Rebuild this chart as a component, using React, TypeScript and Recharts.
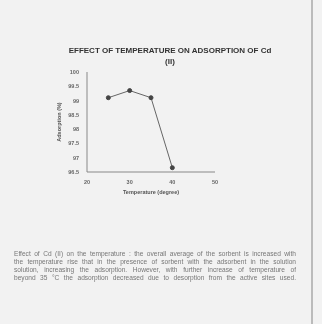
import { LineChart, Line, XAxis, YAxis, Label } from 'recharts';

// temperature (degree) vs adsorption (%)
const temperatures = [25, 30, 35, 40];
const adsorption = [99.1, 99.35, 99.1, 96.65];
const xTicks = [20, 30, 40, 50];
const yTicks = [96.5, 97, 97.5, 98, 98.5, 99, 99.5, 100];

const data = temperatures.map((t, i) => ({ t, value: adsorption[i] }));

const paragraph = [
  'Effect of Cd (II) on the temperature : the overall average of the sorbent is increased with',
  'the temperature rise that in the presence of sorbent with the adsorbent in the solution',
  'solution, increasing the adsorption. However, with further increase of temperature of',
  'beyond 35 °C the adsorption decreased due to desorption from the active sites used.',
];

export default function App() {
  return (
    <div
      style={{
        position: 'absolute',
        left: 0,
        top: 0,
        width: 322,
        height: 324,
        background: '#f2f2f2',
        fontFamily: 'Liberation Sans, Arial, sans-serif',
        overflow: 'hidden',
        filter: 'blur(0.5px)',
      }}
    >
      <div style={{ position: 'absolute', left: 311, top: 0, width: 2, height: 324, background: '#bbb' }} />
      <div
        style={{
          position: 'absolute',
          left: 60,
          top: 45,
          width: 220,
          textAlign: 'center',
          fontSize: 8,
          fontWeight: 'bold',
          color: '#333',
          lineHeight: '11px',
          whiteSpace: 'nowrap',
        }}
      >
        EFFECT OF TEMPERATURE ON ADSORPTION OF Cd
        <br />
        (II)
      </div>
      <div style={{ position: 'absolute', left: 0, top: 0 }}>
        <LineChart width={322} height={324} data={data} margin={{ top: 72, right: 107, left: 57, bottom: 118 }}>
          <XAxis
            dataKey="t"
            type="number"
            domain={[20, 50]}
            ticks={xTicks}
            tick={{ fontSize: 5.5, fill: '#666', fontWeight: 'bold' }}
            tickLine={false}
            axisLine={{ stroke: '#888' }}
            height={34}
          >
            <Label value="Temperature (degree)" position="insideBottom" offset={12} style={{ fontSize: 5.5, fill: '#555', fontWeight: 'bold' }} />
          </XAxis>
          <YAxis
            domain={[96.5, 100]}
            ticks={yTicks}
            tick={{ fontSize: 5.5, fill: '#666', fontWeight: 'bold' }}
            tickLine={false}
            axisLine={{ stroke: '#888' }}
            width={30}
          >
            <Label value="Adsorption (%)" angle={-90} position="insideLeft" offset={2} style={{ fontSize: 5.5, fill: '#555', fontWeight: 'bold', textAnchor: 'middle' }} />
          </YAxis>
          <Line
            dataKey="value"
            stroke="#666"
            strokeWidth={1}
            dot={{ r: 2, fill: '#444', stroke: '#444' }}
            isAnimationActive={false}
          />
        </LineChart>
      </div>
      <div
        style={{
          position: 'absolute',
          left: 14,
          top: 250,
          width: 282,
          fontSize: 6.6,
          lineHeight: '8px',
          color: '#777',
          overflow: 'hidden',
        }}
      >
        {paragraph.map((line, i) => (
          <div
            key={i}
            style={{ textAlign: 'justify', textAlignLast: 'justify', height: 8, overflow: 'hidden', whiteSpace: 'nowrap' }}
          >
            {line}
          </div>
        ))}
      </div>
    </div>
  );
}
